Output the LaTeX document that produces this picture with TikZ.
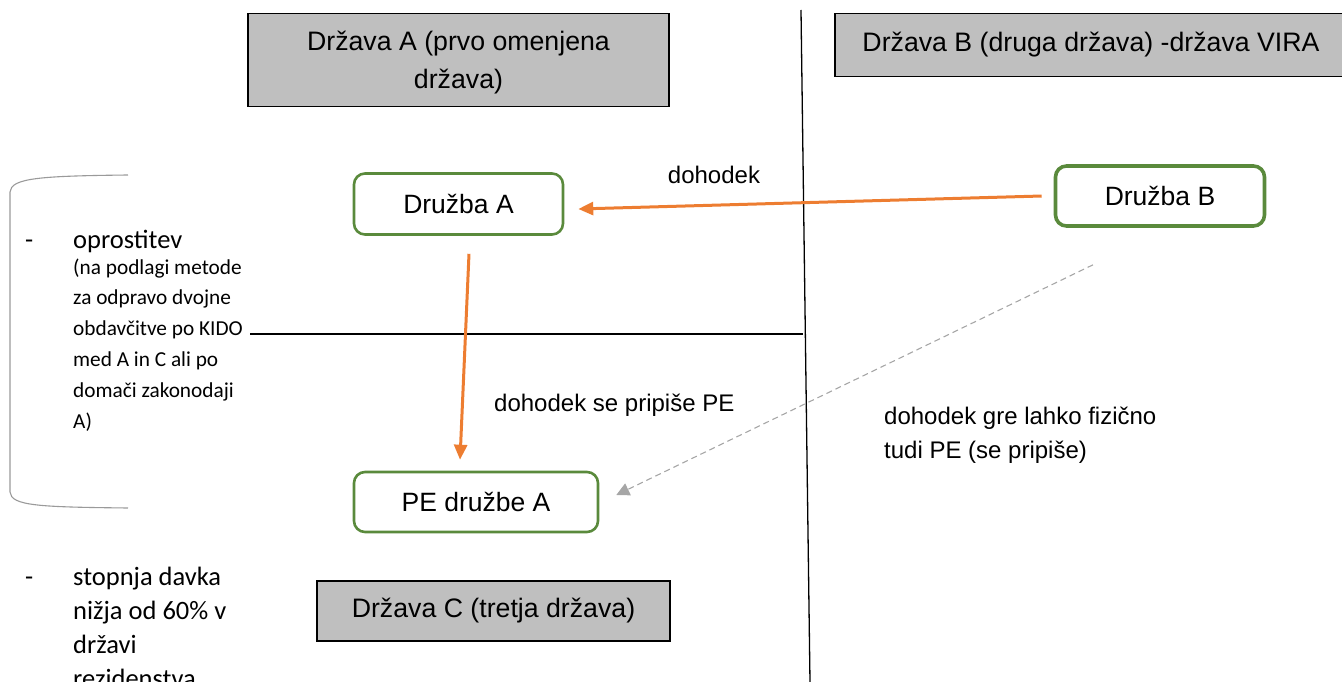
\documentclass[tikz,border=0pt]{standalone}
\usepackage{fontspec}
\setmainfont{Liberation Sans}
\newfontfamily\calfont{Carlito}
\usetikzlibrary{arrows.meta}
\definecolor{boxgray}{HTML}{BFBFBF}
\definecolor{cgreen}{HTML}{5A8A3C}
\definecolor{corange}{HTML}{ED7D31}
\definecolor{dgray}{HTML}{A6A6A6}
\definecolor{brgray}{HTML}{9A9A9A}
\tikzset{
  statebox/.style={draw=black, fill=boxgray, line width=1.6pt, inner sep=0pt, align=center, font=\fontsize{26.7}{38}\selectfont},
  firmbox/.style={draw=cgreen, rounded corners=11pt, line width=2.6pt, inner sep=0pt, font=\fontsize{26.5}{31}\selectfont},
  oarrow/.style={draw=corange, line width=3pt, -{Triangle[length=15pt,width=13pt]}},
  garrow/.style={draw=dgray, line width=1.1pt, dash pattern=on 6pt off 4pt, -{Triangle[length=13pt,width=13pt]}},
  label/.style={inner sep=0pt, font=\fontsize{24}{34}\selectfont},
  bigcal/.style={inner sep=0pt, align=left, font=\calfont\fontsize{26.5}{34}\selectfont},
  smallcal/.style={inner sep=0pt, align=left, font=\calfont\fontsize{21.3}{30.8}\selectfont}
}
\begin{document}
\begin{tikzpicture}[x=1pt,y=-1pt]
\useasboundingbox (0,0) rectangle (1342,682);
% border lines
\coordinate (vt) at (801,10);
\coordinate (vb) at (810,682);
\draw[line width=1.3pt] (vt) -- (vb);
\coordinate (hl) at (250,334);
\coordinate (hr) at (803.4,334);
\draw[line width=1.3pt] (hl) -- (hr);
% state boxes
\node[statebox, minimum width=421pt, minimum height=93pt, text depth=0pt] (stA) at (458.5,60) {Država A (prvo omenjena\\država)};
\node[statebox, minimum width=512pt, minimum height=63pt] (stB) at (1091,45) {Država B (druga država) -država VIRA};
\node[statebox, minimum width=353pt, minimum height=60pt] (stC) at (493.5,611) {Država C (tretja država)};
% firms
\node[firmbox, minimum width=209pt, minimum height=61pt] (dA) at (458.5,204) {Družba A};
\node[firmbox, line width=3.6pt, minimum width=209pt, minimum height=60pt] (dB) at (1160,196) {Družba B};
\node[firmbox, minimum width=244pt, minimum height=60pt] (pe) at (476,502) {PE družbe A};
% arrows
\draw[oarrow] ([xshift=-12pt]dB.west) -- ([shift={(14,5)}]dA.east);
\draw[oarrow] ([shift={(10.5,18)}]dA.south) -- ([shift={(-16,-11)}]pe.north);
\draw[garrow] ([shift={(-67,37)}]dB.south) -- ([shift={(17,-7)}]pe.east);
% labels
\node[label] (l1) at (714,175) {dohodek};
\node[label, anchor=west] (l2) at (494,405) {dohodek se pripiše PE};
\node[label, anchor=west, align=left] (l3) at (884,435) {dohodek gre lahko fizično\\tudi PE (se pripiše)};
% bracket
\draw[brgray, line width=1.1pt] (128,175) .. controls (40,176) and (11,178) .. (10,192) -- (10,492) .. controls (11,506) and (40,507) .. (128,508);
% left texts (base anchor = baseline of last line)
\node[bigcal, anchor=base west] (d1) at (25,248) {-};
\node[bigcal, anchor=base west] (t1) at (73,248) {oprostitev};
\node[smallcal, anchor=base west] (t2) at (73,428) {(na podlagi metode\\za odpravo dvojne\\obdavčitve po KIDO\\med A in C ali po\\domači zakonodaji\\A)};
\node[bigcal, anchor=base west] (d2) at (25,585) {-};
\node[bigcal, anchor=base west] (t3) at (73,687) {stopnja davka\\nižja od 60\% v\\državi\\rezidenstva};
\end{tikzpicture}
\end{document}
